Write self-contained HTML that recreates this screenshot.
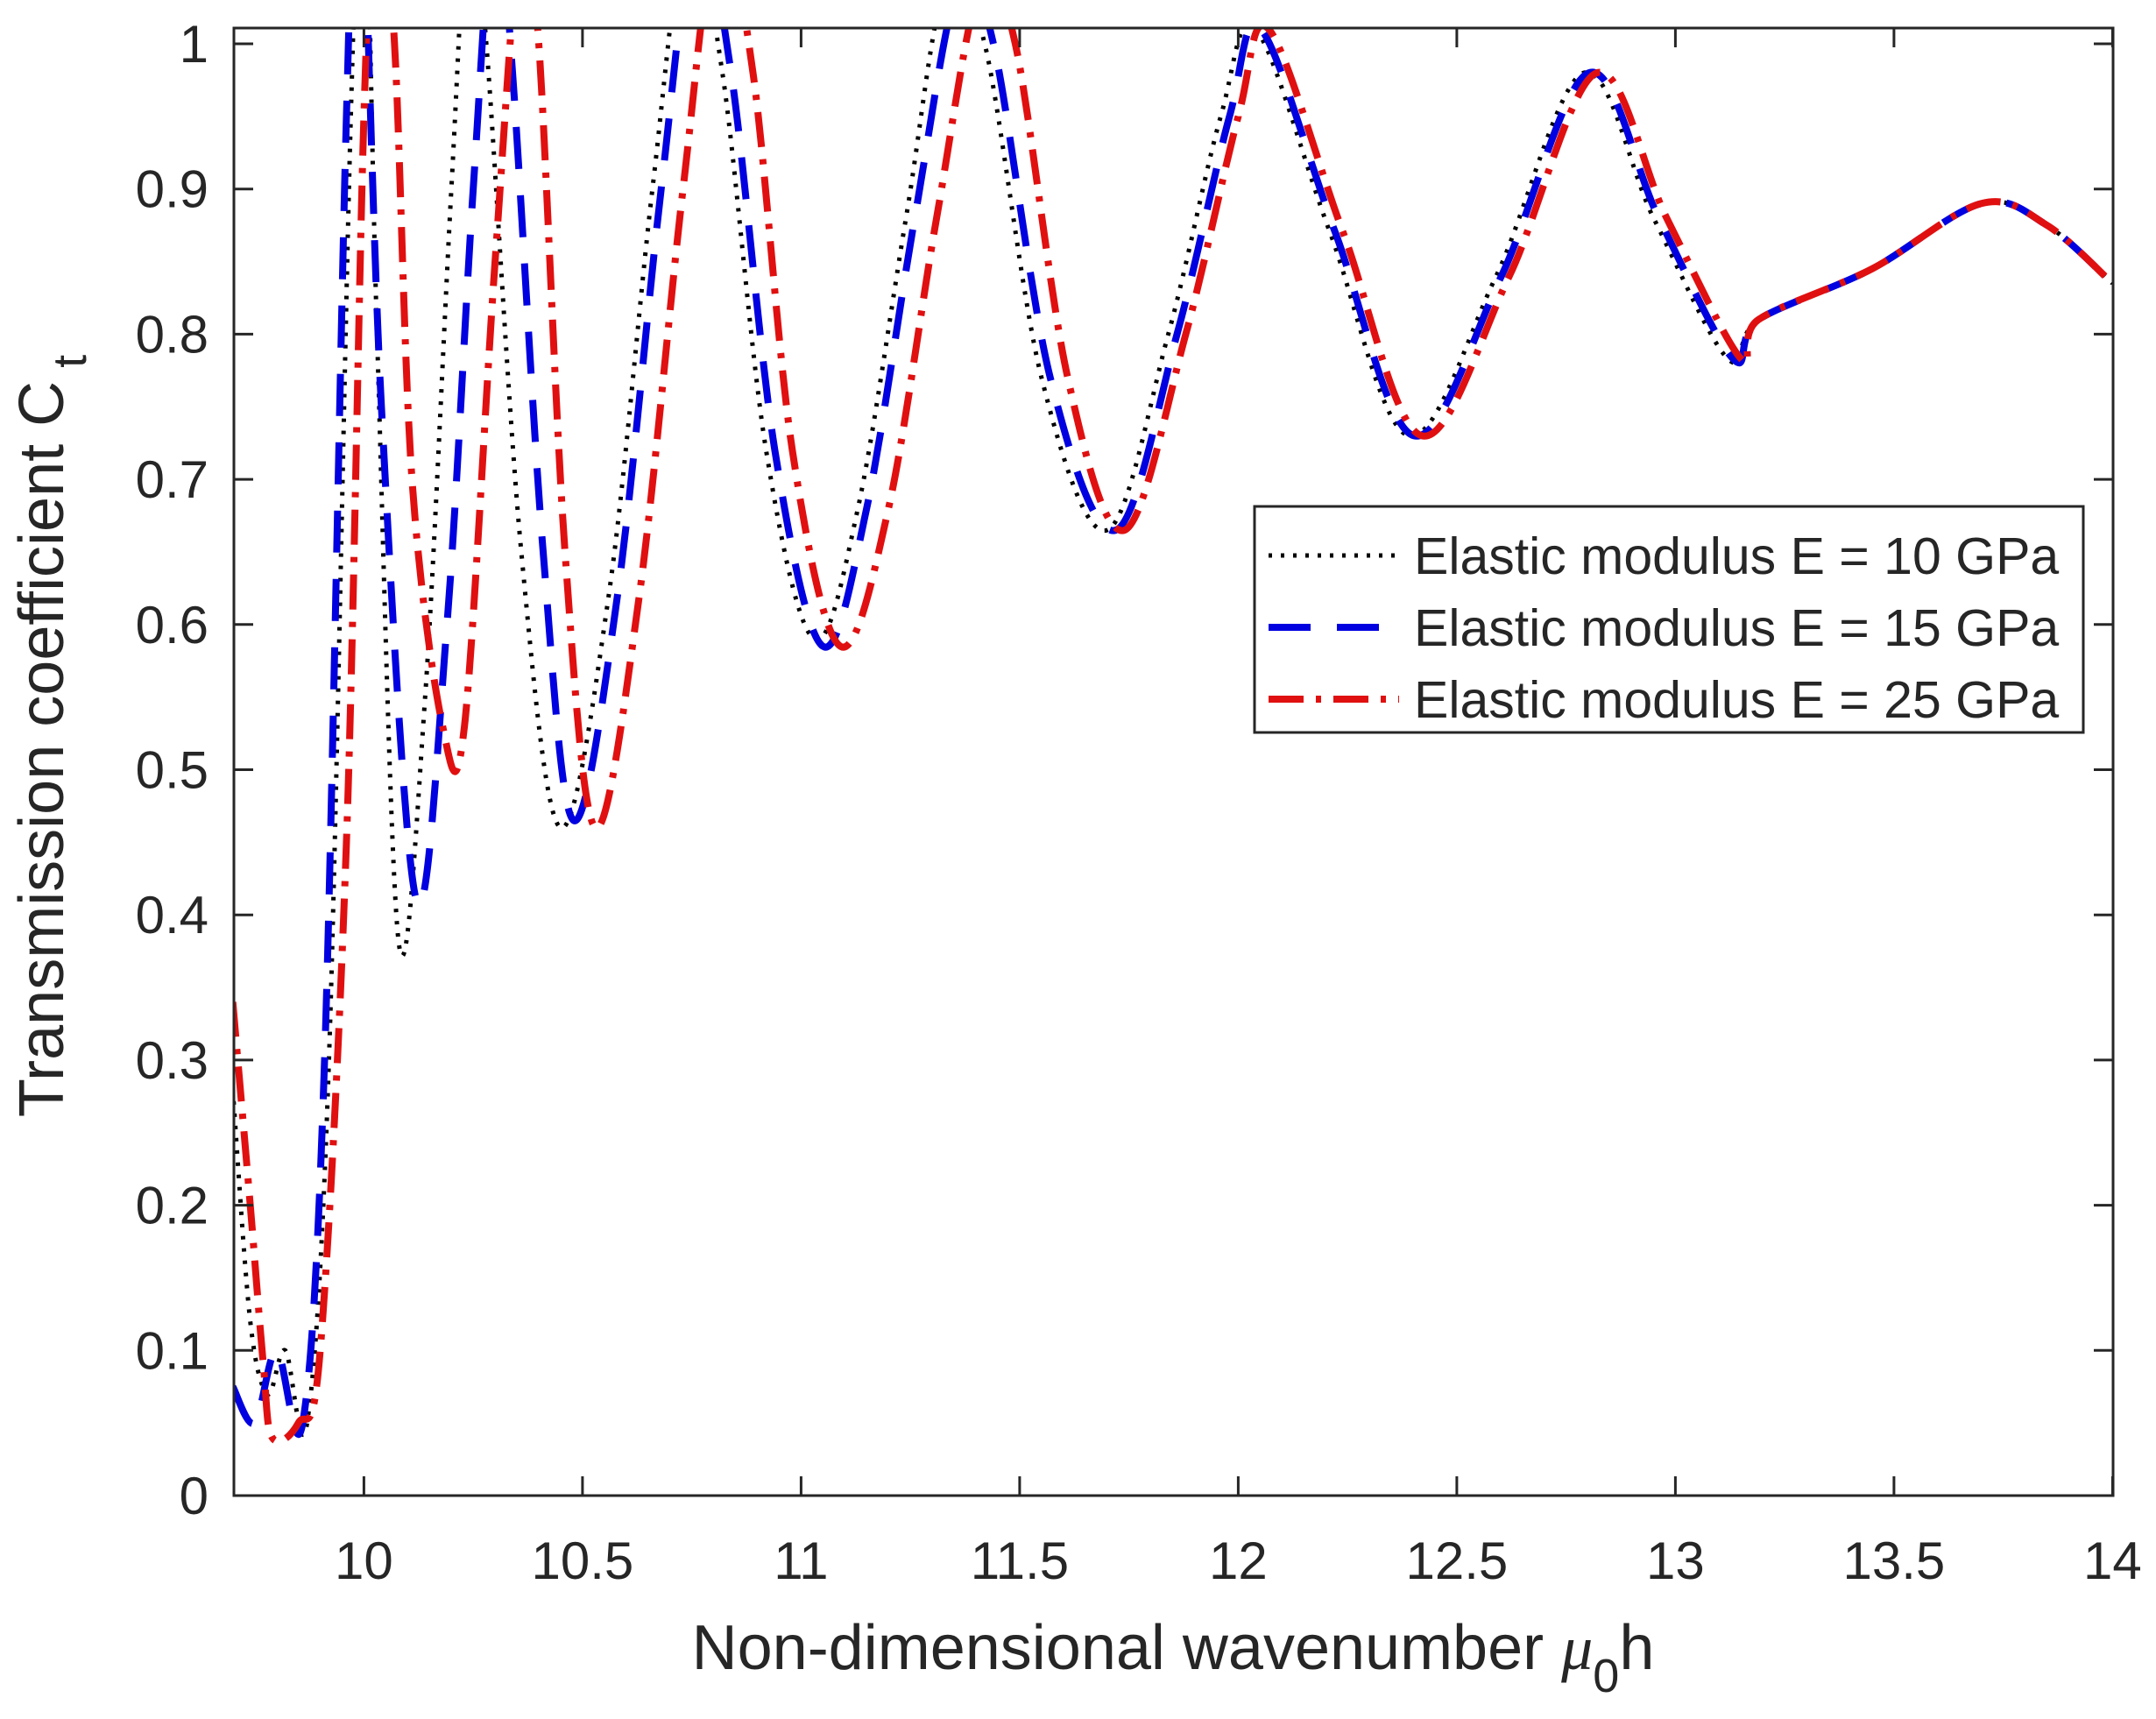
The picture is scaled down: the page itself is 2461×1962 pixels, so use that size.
<!DOCTYPE html>
<html><head><meta charset="utf-8"><style>
html,body{margin:0;padding:0;background:#fff;}
svg{display:block;}
text{font-family:"Liberation Sans",Arial,sans-serif;fill:#262626;}
</style></head><body>
<svg id="s" width="2461" height="1962" xmlns="http://www.w3.org/2000/svg">
<defs><clipPath id="c"><rect x="267" y="32" width="2145" height="1675"/></clipPath></defs>
<g id="curves" clip-path="url(#c)"></g>
<rect x="267" y="32" width="2145" height="1675" fill="none" stroke="#262626" stroke-width="3"/>
<g id="ticks"></g>
<text x="1339" y="1905" font-size="72" text-anchor="middle">Non-dimensional wavenumber  <tspan font-style="italic" font-family="Liberation Serif">μ</tspan><tspan font-size="54" dy="26">0</tspan><tspan dy="-26">h</tspan></text>
<text transform="translate(72,840) rotate(-90)" font-size="72" text-anchor="middle">Transmission coefficient C<tspan font-size="54" dy="26"> t</tspan></text>
<rect x="1432" y="578" width="946" height="258" fill="#fff" stroke="#262626" stroke-width="3"/>
<line x1="1448" y1="634" x2="1597" y2="634" stroke="#000" stroke-width="5" stroke-dasharray="4,10"/>
<line x1="1448" y1="716" x2="1597" y2="716" stroke="#0000e0" stroke-width="8" stroke-dasharray="48,30"/>
<line x1="1448" y1="798" x2="1597" y2="798" stroke="#e01010" stroke-width="8" stroke-dasharray="40,14,6,14"/>
<text x="1614" y="655" font-size="59">Elastic modulus E = 10 GPa</text>
<text x="1614" y="737" font-size="59">Elastic modulus E = 15 GPa</text>
<text x="1614" y="819" font-size="59">Elastic modulus E = 25 GPa</text>
</svg>
<script>
var X=function(v){return 415.4+(v-10)*499;};
var Y=function(v){return 1707-v*1657;};
var t=document.getElementById('ticks'),h='';
for(var i=0;i<=10;i++){var y=Y(i/10);h+='<line x1="267" y1="'+y+'" x2="289" y2="'+y+'" stroke="#262626" stroke-width="3"/><line x1="2412" y1="'+y+'" x2="2390" y2="'+y+'" stroke="#262626" stroke-width="3"/>';
h+='<text x="238" y="'+(y+21)+'" font-size="60" text-anchor="end">'+(i==0?'0':i==10?'1':'0.'+i)+'</text>';}
var xl=['10','10.5','11','11.5','12','12.5','13','13.5','14'];
for(var i=0;i<9;i++){var x=X(10+i*0.5);h+='<line x1="'+x+'" y1="1707" x2="'+x+'" y2="1685" stroke="#262626" stroke-width="3"/><line x1="'+x+'" y1="32" x2="'+x+'" y2="54" stroke="#262626" stroke-width="3"/>';
h+='<text x="'+x+'" y="1802" font-size="60" text-anchor="middle">'+xl[i]+'</text>';}
t.innerHTML=h;
function path(pts){var p=pts.map(function(q){return [X(q[0]),Y(q[1])];});
var d='M'+p[0][0]+','+p[0][1];
for(var i=0;i<p.length-1;i++){var p0=p[i-1]||p[i],p1=p[i],p2=p[i+1],p3=p[i+2]||p2;
d+=' C'+(p1[0]+(p2[0]-p0[0])/6)+','+(p1[1]+(p2[1]-p0[1])/6)+' '+(p2[0]-(p3[0]-p1[0])/6)+','+(p2[1]-(p3[1]-p1[1])/6)+' '+p2[0]+','+p2[1];}
return d;}
var tail=function(s){return [[12.04+s,1.01],[12.21+s,0.87],[12.39+s,0.73],[12.59+s,0.84],[12.79+s,0.98],[12.95+s,0.88],[13.12+s,0.783],[13.19,0.81],[13.45,0.845],[13.7,0.89],[13.85,0.875],[14.0,0.835]];};
var black=[[9.70,0.28],[9.74,0.12],[9.78,0.07],[9.82,0.1],[9.87,0.05],[9.92,0.3],[9.97,0.95],[10.0,1.15],[10.03,0.8],[10.08,0.38],[10.14,0.55],[10.2,0.9],[10.24,1.1],[10.28,1.0],[10.36,0.65],[10.45,0.46],[10.56,0.62],[10.66,0.9],[10.74,1.08],[10.82,0.98],[10.92,0.72],[11.03,0.59],[11.13,0.68],[11.24,0.88],[11.33,1.04],[11.42,1.0],[11.55,0.77],[11.7,0.665],[11.84,0.8],[11.96,0.95]].concat(tail(0));
var blue=[[9.70,0.075],[9.75,0.05],[9.8,0.1],[9.86,0.05],[9.91,0.3],[9.96,0.95],[9.99,1.15],[10.04,0.75],[10.12,0.41],[10.19,0.6],[10.25,0.9],[10.3,1.1],[10.34,0.98],[10.41,0.65],[10.48,0.465],[10.58,0.62],[10.68,0.9],[10.76,1.08],[10.84,0.98],[10.94,0.72],[11.05,0.585],[11.15,0.68],[11.26,0.88],[11.36,1.04],[11.44,1.0],[11.57,0.77],[11.72,0.665],[11.86,0.8],[11.98,0.95]].concat(tail(0.012));
var red=[[9.70,0.34],[9.74,0.2],[9.77,0.09],[9.79,0.04],[9.85,0.05],[9.9,0.1],[9.96,0.45],[10.0,0.95],[10.03,1.12],[10.07,1.0],[10.11,0.7],[10.18,0.53],[10.23,0.53],[10.3,0.85],[10.36,1.08],[10.4,1.0],[10.46,0.65],[10.53,0.46],[10.63,0.62],[10.73,0.9],[10.81,1.08],[10.89,0.98],[10.98,0.72],[11.09,0.585],[11.2,0.68],[11.31,0.88],[11.41,1.04],[11.49,1.0],[11.61,0.77],[11.74,0.665],[11.88,0.8],[12.0,0.95]].concat(tail(0.03));
var g=document.getElementById('curves');
g.innerHTML='<path d="'+path(black)+'" fill="none" stroke="#000" stroke-width="5" stroke-dasharray="4,10"/>'+
'<path d="'+path(blue)+'" fill="none" stroke="#0000e0" stroke-width="8" stroke-dasharray="48,30"/>'+
'<path d="'+path(red)+'" fill="none" stroke="#e01010" stroke-width="8" stroke-dasharray="40,14,6,14"/>';
</script>
</body></html>
